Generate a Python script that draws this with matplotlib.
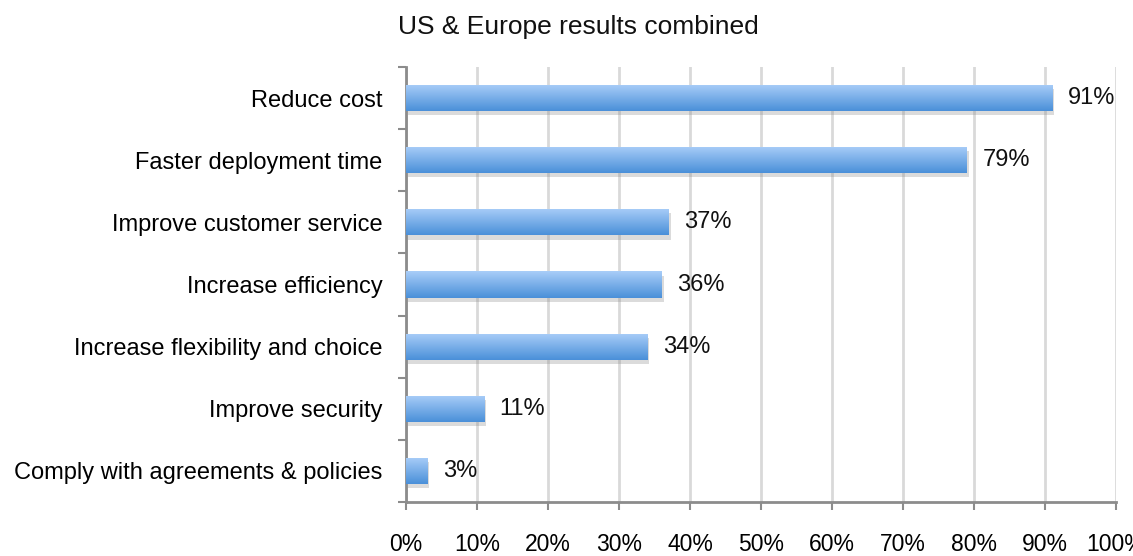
import matplotlib
matplotlib.use("Agg")
import matplotlib.pyplot as plt
import numpy as np
from matplotlib import patheffects as pe
from matplotlib.colors import LinearSegmentedColormap

categories = ["Reduce cost", "Faster deployment time", "Improve customer service",
              "Increase efficiency", "Increase flexibility and choice",
              "Improve security", "Comply with agreements & policies"]
values = [91, 79, 37, 36, 34, 11, 3]
xticks = [0, 10, 20, 30, 40, 50, 60, 70, 80, 90, 100]
title = "US & Europe results combined"

plt.rcParams['font.family'] = ['Liberation Sans', 'DejaVu Sans']
fig = plt.figure(figsize=(11.33, 5.56), dpi=100)
ax = fig.add_axes([406/1133, 1-502/556, (1116-406)/1133, (502-67)/556])

n = len(categories)
ypos = np.arange(n)
bh = 0.42
cmap = LinearSegmentedColormap.from_list("g", ["#4a90d9", "#a9cdf8"])
grad = np.linspace(0, 1, 64).reshape(-1, 1)

bars = ax.barh(ypos, values, height=bh, color="#7fb2ec", zorder=3,
               path_effects=[pe.SimplePatchShadow(offset=(1.5, -3), shadow_rgbFace="#888888", alpha=0.3), pe.Normal()])
for b in bars:
    x0, y0 = b.get_x(), b.get_y()
    w, h = b.get_width(), b.get_height()
    im = ax.imshow(grad, extent=(x0, x0 + w, y0 + h, y0), aspect="auto",
                   cmap=cmap, origin="lower", zorder=4)
    im.set_clip_path(b)

for y, v in zip(ypos, values):
    ax.text(v + 2.2, y, f"{v}%", va="center", ha="left", fontsize=17, color="#111111", zorder=5)

ax.set_xlim(0, 100)
ax.set_ylim(n - 0.5, -0.5)
ax.set_xticks(xticks)
ax.set_xticklabels([f"{t}%" for t in xticks], fontsize=16.5)
ax.set_yticks(ypos)
ax.set_yticklabels(categories, fontsize=17)
ax.set_yticks(np.arange(n + 1) - 0.5, minor=True)
ax.tick_params(axis="y", which="major", length=0, pad=17)
ax.tick_params(axis="y", which="minor", length=6, width=1.5, color="#8c8c8c")
ax.tick_params(axis="x", which="major", length=6, width=1.5, color="#8c8c8c", pad=16)
ax.grid(axis="x", color="#d9d9d9", linewidth=2, zorder=0)
ax.set_axisbelow(True)
for s in ["top", "right"]:
    ax.spines[s].set_visible(False)
for s in ["left", "bottom"]:
    ax.spines[s].set_color("#8c8c8c")
    ax.spines[s].set_linewidth(2)

fig.text(578/1133, 1 - 27/556, title, ha="center", va="center", fontsize=19, color="#111111")
fig.savefig("out.png", dpi=100)
